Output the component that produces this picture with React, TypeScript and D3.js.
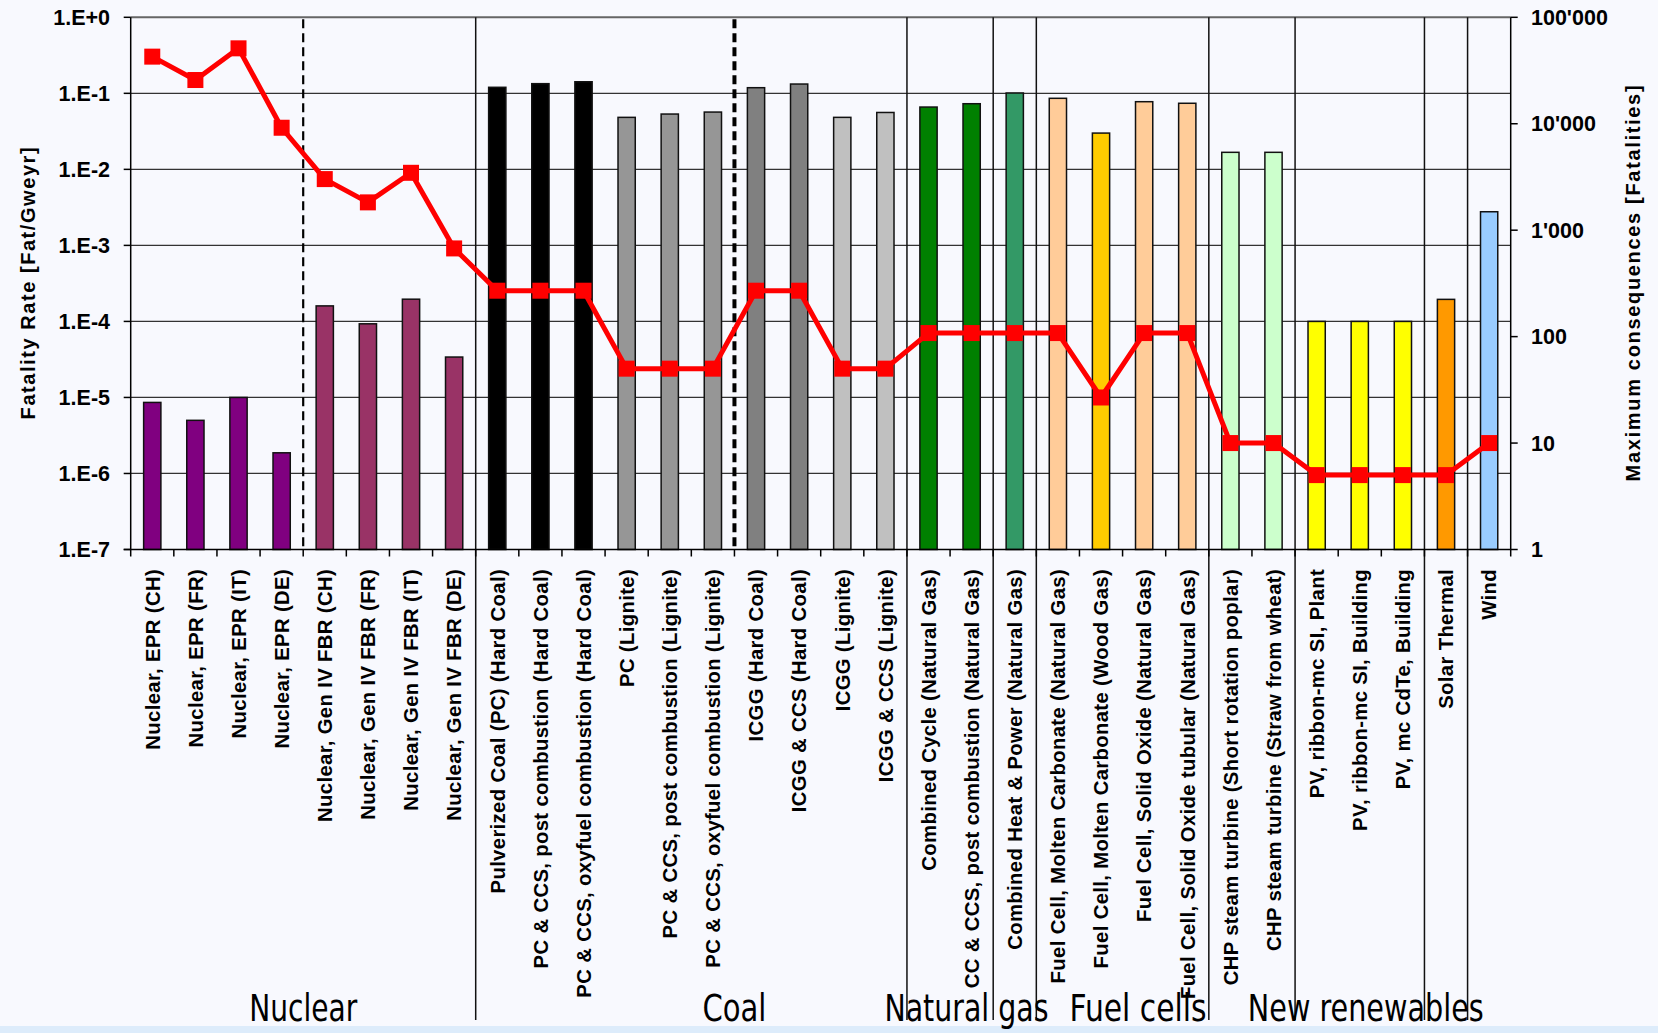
import React from 'react';
import * as d3 from 'd3';

// categories along the x axis, left to right
const categories = [
  'Nuclear, EPR (CH)', 'Nuclear, EPR (FR)', 'Nuclear, EPR (IT)', 'Nuclear, EPR (DE)',
  'Nuclear, Gen IV FBR (CH)', 'Nuclear, Gen IV FBR (FR)', 'Nuclear, Gen IV FBR (IT)', 'Nuclear, Gen IV FBR (DE)',
  'Pulverized Coal (PC) (Hard Coal)', 'PC & CCS, post combustion (Hard Coal)', 'PC & CCS, oxyfuel combustion (Hard Coal)',
  'PC (Lignite)', 'PC & CCS, post combustion (Lignite)', 'PC & CCS, oxyfuel combustion (Lignite)',
  'ICGG (Hard Coal)', 'ICGG & CCS (Hard Coal)', 'ICGG (Lignite)', 'ICGG & CCS (Lignite)',
  'Combined Cycle (Natural Gas)', 'CC & CCS, post combustion (Natural Gas)', 'Combined Heat & Power (Natural Gas)',
  'Fuel Cell, Molten Carbonate (Natural Gas)', 'Fuel Cell, Molten Carbonate (Wood Gas)',
  'Fuel Cell, Solid Oxide (Natural Gas)', 'Fuel Cell, Solid Oxide tubular (Natural Gas)',
  'CHP steam turbine (Short rotation poplar)', 'CHP steam turbine (Straw from wheat)',
  'PV, ribbon-mc SI, Plant', 'PV, ribbon-mc SI, Building', 'PV, mc CdTe, Building',
  'Solar Thermal', 'Wind',
];

// bars, left axis [Fat/GWeyr]
const fatalityRate = [
  8.6e-6, 5.0e-6, 1.0e-5, 1.87e-6,
  1.6e-4, 9.3e-5, 1.96e-4, 3.4e-5,
  0.12, 0.134, 0.142,
  0.0483, 0.0534, 0.0567,
  0.1186, 0.1325, 0.0483, 0.056,
  0.066, 0.073, 0.101,
  0.086, 0.03, 0.0776, 0.074,
  0.01675, 0.01675,
  1e-4, 1e-4, 1e-4,
  1.95e-4, 2.77e-3,
];

// red line, right axis [Fatalities]
const maxConsequences = [
  42700, 25750, 51100, 9170,
  3020, 1825, 3460, 674,
  270, 270, 270,
  50, 50, 50,
  270, 270, 50, 50,
  108, 108, 108,
  108, 26.8, 108, 108,
  10, 10,
  5, 5, 5,
  5, 10,
];

const barColors = [
  '#800080', '#800080', '#800080', '#800080',
  '#993366', '#993366', '#993366', '#993366',
  '#000000', '#000000', '#000000',
  '#969696', '#969696', '#969696',
  '#808080', '#808080', '#c0c0c0', '#c0c0c0',
  '#008000', '#008000', '#339966',
  '#ffcc99', '#ffcc00', '#ffcc99', '#ffcc99',
  '#ccffcc', '#ccffcc',
  '#ffff00', '#ffff00', '#ffff00',
  '#ff9900', '#99ccff',
];

const leftTicks = [1e-7, 1e-6, 1e-5, 1e-4, 1e-3, 1e-2, 1e-1, 1];
const leftTickLabels = ['1.E-7', '1.E-6', '1.E-5', '1.E-4', '1.E-3', '1.E-2', '1.E-1', '1.E+0'];
const rightTicks = [1, 10, 100, 1000, 10000, 100000];
const rightTickLabels = ['1', '10', '100', "1'000", "10'000", "100'000"];

// group boundaries (index of first category of the next group)
const solidBreaks = [8, 18, 20, 21, 25, 27, 30, 31];
const dashedBreaks = [4, 14];

const groupNames = ['Nuclear', 'Coal', 'Natural gas', 'Fuel cells', 'New renewables'];
// label anchor, in category units, and drawn width
const groupAnchor = [4, 14, 19.38, 23.36, 28.64];
const groupWidth = [108, 64, 164, 137, 236];

const W = 1658;
const H = 1033;
const left = 130.7;
const right = 1510.7;
const top = 17.3;
const bottom = 549.5;

const FONT = "'Liberation Sans', Arial, Helvetica, sans-serif";
const NARROW = "'Liberation Sans Narrow', 'Arial Narrow', 'DejaVu Sans Condensed', sans-serif";

export default function App() {
  const x = d3.scaleBand<string>().domain(categories).range([left, right]).padding(0);
  const bw = x.bandwidth();
  const unit = (u: number) => left + u * bw;
  const yL = d3.scaleLog().domain([1e-7, 1]).range([bottom, top]);
  const yR = d3.scaleLog().domain([1, 1e5]).range([bottom, top]);
  const barW = bw * 0.4;

  const line = d3
    .line<number>()
    .x((_, i) => (x(categories[i]) as number) + bw / 2)
    .y(d => yR(d));

  return (
    <>
      <style>{`body{margin:0;overflow:hidden;}`}</style>
      <svg width={W} height={H} style={{ display: 'block' }}>
        <rect x={0} y={0} width={W} height={H} fill="#f8f9fe" />
        <rect x={0} y={1026} width={W} height={H - 1026} fill="#ddecfb" />

        {/* horizontal grid */}
        {leftTicks.map((t, i) => (
          <line
            key={'g' + i}
            x1={left}
            x2={right}
            y1={yL(t)}
            y2={yL(t)}
            stroke={i === leftTicks.length - 1 ? '#666' : '#333'}
            strokeWidth={i === leftTicks.length - 1 ? 2 : 1.2}
          />
        ))}

        {/* group separators */}
        {solidBreaks.map(b => (
          <line key={'s' + b} x1={unit(b)} x2={unit(b)} y1={top} y2={1020} stroke="#111" strokeWidth={1.5} />
        ))}
        {dashedBreaks.map((b, i) => (
          <line
            key={'d' + b}
            x1={unit(b)}
            x2={unit(b)}
            y1={top + 2}
            y2={bottom}
            stroke="#000"
            strokeWidth={i === 0 ? 2.2 : 4}
            strokeDasharray="9,5"
          />
        ))}

        {/* bars */}
        {categories.map((c, i) => (
          <rect
            key={'b' + i}
            x={(x(c) as number) + (bw - barW) / 2}
            y={yL(fatalityRate[i])}
            width={barW}
            height={yL(1e-7) - yL(fatalityRate[i])}
            fill={barColors[i]}
            stroke="#111"
            strokeWidth={1.5}
          />
        ))}

        {/* axes */}
        <line x1={left} x2={left} y1={top} y2={bottom} stroke="#000" strokeWidth={1.5} />
        <line x1={right} x2={right} y1={top} y2={bottom} stroke="#000" strokeWidth={1.5} />
        <line x1={left - 7} x2={right} y1={bottom} y2={bottom} stroke="#000" strokeWidth={1.5} />
        {leftTicks.map((t, i) => (
          <g key={'lt' + i}>
            <line x1={left - 7} x2={left} y1={yL(t)} y2={yL(t)} stroke="#000" strokeWidth={1.5} />
            <text
              x={110}
              y={yL(t)}
              dy="0.36em"
              textAnchor="end"
              fontFamily={FONT}
              fontWeight="bold"
              fontSize={21.5}
              fill="#000"
            >
              {leftTickLabels[i]}
            </text>
          </g>
        ))}
        {rightTicks.map((t, i) => (
          <g key={'rt' + i}>
            <line x1={right} x2={right + 7} y1={yR(t)} y2={yR(t)} stroke="#000" strokeWidth={1.5} />
            <text
              x={1531}
              y={yR(t)}
              dy="0.36em"
              textAnchor="start"
              fontFamily={FONT}
              fontWeight="bold"
              fontSize={21.5}
              fill="#000"
            >
              {rightTickLabels[i]}
            </text>
          </g>
        ))}
        {d3.range(categories.length + 1).map(k => (
          <line key={'xt' + k} x1={unit(k)} x2={unit(k)} y1={bottom} y2={bottom + 7} stroke="#000" strokeWidth={1.5} />
        ))}

        {/* red line */}
        <path d={line(maxConsequences) || ''} fill="none" stroke="#ff0000" strokeWidth={5} strokeLinejoin="round" />
        {maxConsequences.map((v, i) => (
          <rect
            key={'m' + i}
            x={(x(categories[i]) as number) + bw / 2 - 8}
            y={yR(v) - 8}
            width={16}
            height={16}
            fill="#ff0000"
          />
        ))}

        {/* category labels */}
        {categories.map((c, i) => (
          <text
            key={'cl' + i}
            transform={`translate(${(x(c) as number) + bw / 2},569) rotate(-90)`}
            dy="0.36em"
            textAnchor="end"
            fontFamily={FONT}
            fontWeight="bold"
            fontSize={20.3}
            letterSpacing={0.35}
            fill="#000"
          >
            {c}
          </text>
        ))}

        {/* axis titles */}
        <text
          transform={`translate(28,${(top + bottom) / 2}) rotate(-90)`}
          dy="0.36em"
          textAnchor="middle"
          fontFamily={FONT}
          fontWeight="bold"
          fontSize={20}
          fill="#000"
          textLength={272}
        >
          Fatality Rate [Fat/Gweyr]
        </text>
        <text
          transform={`translate(1633,${(top + bottom) / 2}) rotate(-90)`}
          dy="0.36em"
          textAnchor="middle"
          fontFamily={FONT}
          fontWeight="bold"
          fontSize={20}
          fill="#000"
          textLength={396}
        >
          Maximum consequences [Fatalities]
        </text>

        {/* group labels */}
        {groupNames.map((g, i) => (
          <text
            key={'gl' + i}
            x={unit(groupAnchor[i])}
            y={1021}
            textAnchor="middle"
            fontFamily={NARROW}
            fontSize={37}
            fill="#000"
            textLength={groupWidth[i]}
            lengthAdjust="spacingAndGlyphs"
          >
            {g}
          </text>
        ))}
      </svg>
    </>
  );
}
